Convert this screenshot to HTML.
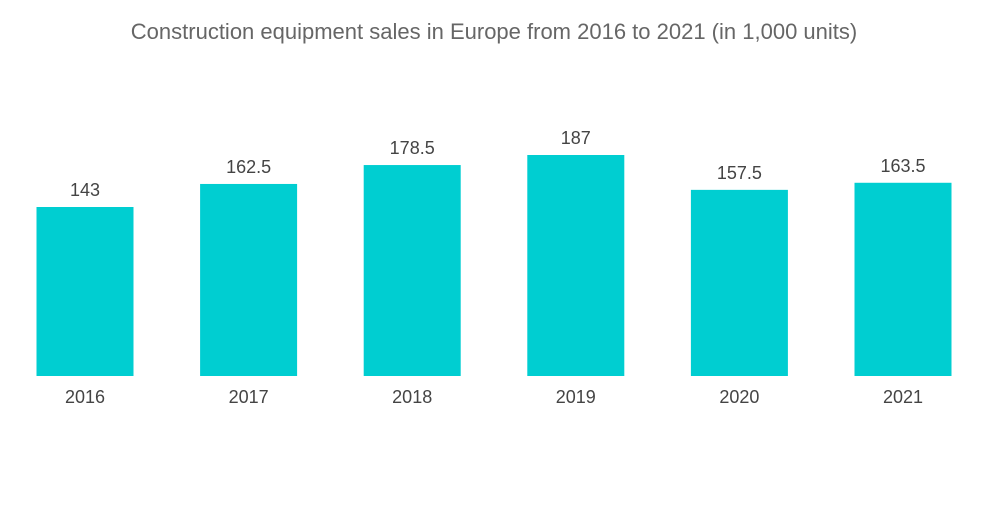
<!DOCTYPE html>
<html><head><meta charset="utf-8"><style>
body{margin:0;background:#fff;width:1000px;height:504px;overflow:hidden;font-family:"Liberation Sans",sans-serif}
</style></head><body>
<svg id="chart" width="1000" height="504">
<text x="494" y="39" text-anchor="middle" font-size="22" fill="#666">Construction equipment sales in Europe from 2016 to 2021 (in 1,000 units)</text>
<g id="bars"></g>
</svg>
<script>
const categories=["2016","2017","2018","2019","2020","2021"];
const values=[143,162.5,178.5,187,157.5,163.5];
const valueLabels=["143","162.5","178.5","187","157.5","163.5"];
const baseY=376, scale=169/143, x0=85, step=163.6, bw=97;
const yPos=v=>baseY-v*scale;
const xPos=i=>x0+i*step;
const g=document.getElementById('bars');
const ns="http://www.w3.org/2000/svg";
categories.forEach((c,i)=>{
 const r=document.createElementNS(ns,'rect');
 r.setAttribute('x',xPos(i)-bw/2);r.setAttribute('y',yPos(values[i]));
 r.setAttribute('width',bw);r.setAttribute('height',baseY-yPos(values[i]));
 r.setAttribute('fill','#00ced1');
 
 
 g.appendChild(r);
 const t=document.createElementNS(ns,'text');
 t.setAttribute('x',xPos(i));t.setAttribute('y',yPos(values[i])-11);
 t.setAttribute('text-anchor','middle');t.setAttribute('font-size','18');t.setAttribute('fill','#444');
 t.textContent=valueLabels[i];
 
 
 g.appendChild(t);
 const l=document.createElementNS(ns,'text');
 l.setAttribute('x',xPos(i));l.setAttribute('y',403);
 l.setAttribute('text-anchor','middle');l.setAttribute('font-size','18');l.setAttribute('fill','#444');
 l.textContent=c;
 
 
 g.appendChild(l);
});
</script>
</body></html>
